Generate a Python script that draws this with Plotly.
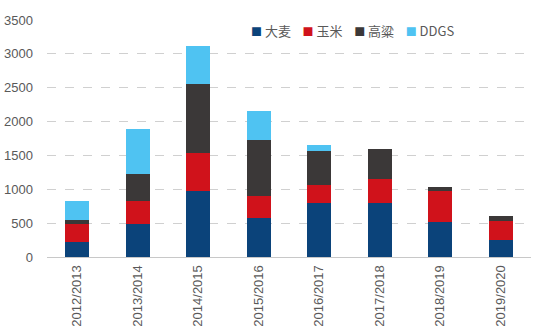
import plotly.graph_objects as go

categories = ["2012/2013", "2013/2014", "2014/2015", "2015/2016",
              "2016/2017", "2017/2018", "2018/2019", "2019/2020"]
barley = [217, 487, 980, 576, 802, 802, 517, 251]
corn = [270, 340, 551, 330, 256, 350, 453, 281]
sorghum = [59, 399, 1020, 827, 512, 443, 69, 74]
ddgs = [281, 669, 566, 424, 79, 0, 0, 0]

series = [
    ("大麦", barley, "#0b437a"),
    ("玉米", corn, "#d0121b"),
    ("高粱", sorghum, "#3b3838"),
    ("DDGS", ddgs, "#4fc3f2"),
]

fig = go.Figure()
for name, vals, color in series:
    fig.add_trace(go.Bar(x=categories, y=vals, name=name, marker_color=color,
                         marker_line_width=0, showlegend=False))

legend_text = "&nbsp;&nbsp;&nbsp;&nbsp;".join(
    f"<span style='color:{c};font-size:11px'>■</span>&nbsp;{n}" for n, _, c in series)
fig.add_annotation(text=legend_text, xref="paper", yref="paper", x=0.418, y=0.955,
                   xanchor="left", yanchor="middle", showarrow=False,
                   font=dict(size=13, color="#595959",
                             family="Noto Sans CJK SC, sans-serif"))

fig.update_layout(
    barmode="stack",
    bargap=0.6,
    width=550, height=329,
    margin=dict(l=47, r=19, t=20, b=72, autoexpand=False),
    paper_bgcolor="white", plot_bgcolor="white",
    font=dict(family="Liberation Sans, Open Sans, sans-serif", color="#595959", size=13),
    showlegend=False,
)
fig.update_yaxes(range=[0, 3500], dtick=500, showgrid=True, gridcolor="#d0d0d0",
                 griddash="dash", gridwidth=1, zeroline=False, showline=False,
                 tickfont=dict(size=13, color="#595959"), ticks="", ticklabelstandoff=13,
                 automargin=False)
fig.update_xaxes(showline=True, linecolor="#c8c8c8", linewidth=1, tickangle=-90,
                 tickfont=dict(size=13, color="#595959"), ticks="", automargin=False,
                 ticklabelstandoff=2)
fig.write_html("out.html")
